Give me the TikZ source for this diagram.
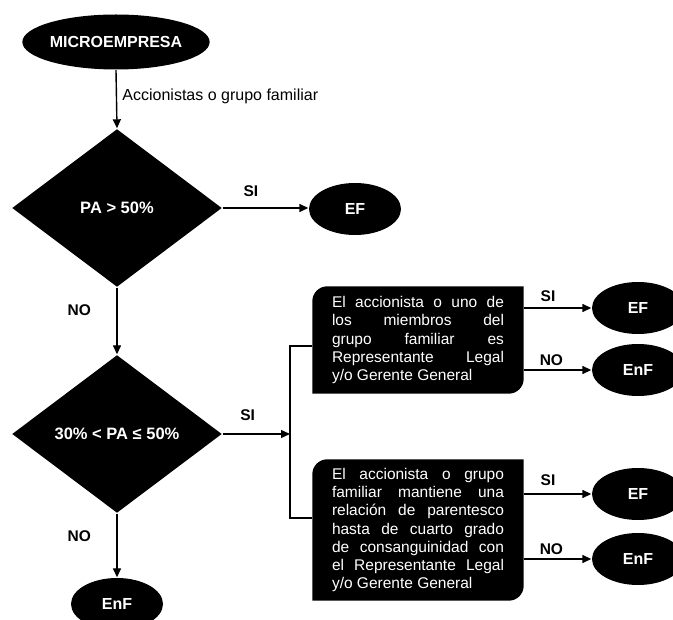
\documentclass[tikz,border=0pt]{standalone}
\usepackage{fontspec}
\setmainfont{Liberation Sans}
\usetikzlibrary{shapes.geometric,arrows.meta,backgrounds}
\newcommand{\loosepar}{\tolerance=10000\relax\hyphenpenalty=10000\relax}

\begin{document}
\begin{tikzpicture}[x=1pt,y=-1pt,line width=1.4pt,
  term/.style={ellipse,fill=black,text=white,inner sep=0pt,minimum width=92pt,minimum height=52pt,font=\fontsize{16}{18}\selectfont\bfseries},
  decision/.style={diamond,fill=black,text=white,inner sep=0pt,minimum width=210pt,minimum height=158pt,font=\fontsize{16.5}{19}\selectfont\bfseries},
  textbox/.style={text=white,text width=172pt,align=justify,minimum width=210pt,inner xsep=19pt,font=\fontsize{15.5}{18.3}\selectfont},
  lbl/.style={font=\fontsize{15.5}{18}\selectfont\bfseries},
  arr/.style={-{Triangle[length=9pt,width=8pt]}}]
  \useasboundingbox (0,0) rectangle (673,620);
  % left column
  \node[term,minimum width=178pt,minimum height=55pt] (micro) at (116,42) {MICROEMPRESA};
  \node[decision] (d1) at (117,208) {PA > 50\%};
  \node[term] (ef0) at (355,209) {EF};
  \node[decision] (d2) at (117,434) {30\% < PA ≤ 50\%};
  \node[term] (enf0) at (117,604) {EnF};
  % conditions
  \node[textbox,minimum height=106pt] (b1) at (418,340) {\loosepar El accionista o uno de\linebreak los miembros del\linebreak grupo familiar es\linebreak Representante Legal\linebreak y/o Gerente General};
  \node[textbox,minimum height=140pt] (b2) at (418,530) {\loosepar El accionista o grupo\linebreak familiar mantiene una\linebreak relación de parentesco\linebreak hasta de cuarto grado\linebreak de consanguinidad con\linebreak el Representante Legal\linebreak y/o Gerente General};
  \begin{scope}[on background layer]
    \foreach \b in {b1,b2}
      \fill (\b.south west) -- ([yshift=-15pt]\b.north west) arc[start angle=180,end angle=90,radius=15pt]
        -- (\b.north east) -- ([yshift=15pt]\b.south east) arc[start angle=0,end angle=-90,radius=15pt] -- cycle;
  \end{scope}
  \node[term] (ef1) at (638,308) {EF};
  \node[term] (enf1) at (638,370) {EnF};
  \node[term] (ef2) at (638,494) {EF};
  \node[term] (enf2) at (638,559) {EnF};
  \coordinate (brtop) at (290,346);
  \coordinate (brbot) at (290,518);
  % connectors
  \draw[arr] (micro.south) -- (d1.north) node[pos=0.45,right=2pt,font=\fontsize{16}{18}\selectfont] (acc) {Accionistas o grupo familiar};
  \draw[arr] (d1.east) -- (d1.east -| ef0.west) node[lbl,pos=0.33,above=7pt] (si0) {SI};
  \draw[arr] (d1.south) -- (d2.north) node[lbl,pos=0.34,left=22pt] (no0) {NO};
  \draw[arr] (d2.south) -- (enf0.north) node[lbl,pos=0.36,left=22pt] (no3) {NO};
  \draw[arr] (d2.east) -- (d2.east -| brtop) node[lbl,pos=0.37,above=9pt] (si3) {SI};
  \draw (b1.west |- brtop) -- (brtop) -- (brbot) -- (b2.west |- brbot);
  \draw[arr] (ef1.west -| b1.east) -- (ef1.west) node[lbl,pos=0.36,above=2pt] (si1) {SI};
  \draw[arr] (enf1.west -| b1.east) -- (enf1.west) node[lbl,pos=0.41,above=0pt] (no1) {NO};
  \draw[arr] (ef2.west -| b2.east) -- (ef2.west) node[lbl,pos=0.36,above=4pt] (si2) {SI};
  \draw[arr] (enf2.west -| b2.east) -- (enf2.west) node[lbl,pos=0.41,above=0pt] (no2) {NO};
\end{tikzpicture}
\end{document}
